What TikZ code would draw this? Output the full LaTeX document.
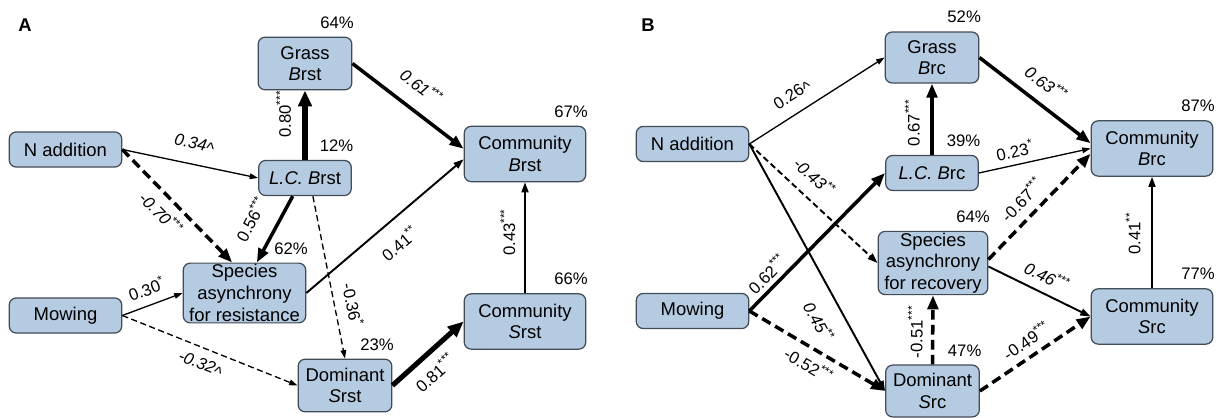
\documentclass[tikz,border=0pt]{standalone}
\usepackage{fontspec}
\setmainfont{Liberation Sans}
\usetikzlibrary{arrows.meta,positioning}
\definecolor{boxfill}{RGB}{181,203,225}
\definecolor{boxline}{RGB}{66,76,88}
\newcommand{\crt}{\raisebox{-.3ex}{\textasciicircum}}

\begin{document}
\begin{tikzpicture}[x=0.02cm, y=-0.02cm]
\tikzstyle{box}=[rectangle, rounded corners=4pt, draw=boxline, fill=boxfill, line width=0.7pt,
                 align=center, inner sep=0pt, font=\fontsize{10.5}{12.3}\selectfont]
\tikzstyle{one}=[box, minimum width=64pt, minimum height=20pt]
\tikzstyle{lc}=[box, minimum width=52.7pt, minimum height=20pt]
\tikzstyle{two}=[box, minimum width=53.3pt, minimum height=30pt]
\tikzstyle{com}=[box, minimum width=69.2pt, minimum height=31.5pt]
\tikzstyle{sp}=[box, minimum height=34pt]
\tikzstyle{pct}=[anchor=south east, inner sep=1pt, xshift=2pt, yshift=3.5pt, font=\fontsize{9.5}{11}\selectfont]
\tikzstyle{lbl}=[sloped, inner sep=1pt, font=\fontsize{9.5}{11}\selectfont]
\tikzstyle{thn}=[line width=0.75pt, -{Triangle[length=4.8pt,width=3.2pt]}]
\tikzstyle{med}=[line width=1.1pt, -{Triangle[length=5.8pt,width=4pt]}]
\tikzstyle{thk}=[line width=2pt, -{Triangle[length=8pt,width=6pt]}]
\tikzstyle{xthk}=[line width=2.9pt, -{Triangle[length=9pt,width=7.5pt]}]
\tikzstyle{dsh}=[dash pattern=on 3.5pt off 2pt]
\tikzstyle{ldsh}=[dash pattern=on 5.5pt off 3pt]
\useasboundingbox (0,0) rectangle (1225,418);
% panel A
\node[font=\fontsize{10.5}{12}\selectfont\bfseries] (labA) at (25,25) {A};
\node[two] (grA) at (305,63.5) {Grass\\\textit{B}rst};
\node[lc] (lcA) at (305,178) {\textit{L.C. B}rst};
\node[one] (naA) at (65.5,149.5) {N addition};
\node[sp, minimum width=69.7pt] (spA) at (244.5,293) {Species\\asynchrony\\for resistance};
\node[one] (mowA) at (65.5,315.5) {Mowing};
\node[two] (domA) at (345,385.5) {Dominant\\\textit{S}rst};
\node[com] (comBA) at (525,154) {Community\\\textit{B}rst};
\node[com] (comSA) at (525,321.5) {Community\\\textit{S}rst};
\draw[thn] (naA.east) -- node[lbl, above=6pt] {\textit{0.34\crt}} (lcA.west);
\draw[thk, ldsh] (naA.east) -- node[lbl, below=3pt, pos=.46] {\textit{-0.70\textsuperscript{***}}} ([xshift=-7pt]spA.north);
\draw[xthk] (lcA.north) -- node[lbl, above=5.5pt, pos=.66] {0.80\textsuperscript{***}} (grA.south);
\draw[thk] ([xshift=-7pt]lcA.south) -- node[lbl, above=8.5pt, pos=.53] {0.56\textsuperscript{***}} ([xshift=7pt]spA.north);
\draw[thn, dsh] ([xshift=4.5pt]lcA.south) -- node[lbl, above=5pt, pos=.69] {-0.36\textsuperscript{*}} (domA.north);
\draw[thk] (grA.east) -- node[lbl, above=7.5pt, pos=.49] {\textit{0.61\textsuperscript{***}}} ([yshift=3pt]comBA.west);
\draw[med] (spA.east) -- node[lbl, below=7pt] {0.41\textsuperscript{**}} ([yshift=-3pt]comBA.west);
\draw[thn] (mowA.east) -- node[lbl, above=4pt] {0.30\textsuperscript{*}} (spA.west);
\draw[thn, dsh] (mowA.east) -- node[lbl, below=4pt, pos=.48] {\textit{-0.32\crt}} (domA.west);
\draw[xthk] (domA.east) -- node[lbl, below=4pt, pos=.42] {0.81\textsuperscript{***}} (comSA.west);
\draw[med] (comSA.north) -- node[lbl, above=4pt, pos=.55] {0.43\textsuperscript{***}} (comBA.south);
% panel B
\node[font=\fontsize{10.5}{12}\selectfont\bfseries] (labB) at (648,25) {B};
\node[one] (naB) at (692.5,144) {N addition};
\node[one] (mowB) at (692.5,311) {Mowing};
\node[two, minimum height=29pt] (grB) at (932,57.5) {Grass\\\textit{B}rc};
\node[lc] (lcB) at (932,173) {\textit{L.C. B}rc};
\node[sp, minimum width=62.4pt, minimum height=36pt] (spB) at (933,263) {Species\\asynchrony\\for recovery};
\node[two, minimum height=29.5pt] (domB) at (932.5,391) {Dominant\\\textit{S}rc};
\node[com] (comBB) at (1152,148.5) {Community\\\textit{B}rc};
\node[com] (comSB) at (1152,316.5) {Community\\\textit{S}rc};
\draw[thn] (naB.east) -- node[lbl, above=4.5pt, pos=.39] {0.26\crt} (grB.west);
\draw[med, dsh] (naB.east) -- node[lbl, above=6pt, pos=.4] {\textit{-0.43\textsuperscript{**}}} (spB.west);
\draw[med] (naB.east) -- node[lbl, below=8pt, pos=.67] {\textit{0.45\textsuperscript{**}}} (domB.west);
\draw[thk] (mowB.east) -- node[lbl, above=1.5pt, pos=.2] {0.62\textsuperscript{***}} (lcB.west);
\draw[thk, ldsh] (mowB.east) -- node[lbl, below=3pt] {-0.52\textsuperscript{***}} (domB.west);
\draw[thk] (lcB.north) -- node[lbl, above=5pt, pos=.45] {0.67\textsuperscript{***}} (grB.south);
\draw[thn] (lcB.east) -- node[lbl, above=2.7pt, pos=.35] {0.23\textsuperscript{*}} (comBB.west);
\draw[thk] (grB.east) -- node[lbl, above=5.5pt, pos=.49] {\textit{0.63\textsuperscript{***}}} ([yshift=3pt]comBB.west);
\draw[thk, ldsh] ([yshift=2pt]spB.east) -- node[lbl, above=4pt, pos=.45] {-0.67\textsuperscript{***}} ([yshift=-3pt]comBB.west);
\draw[med] ([yshift=-2pt]spB.east) -- node[lbl, above=4pt] {\textit{0.46\textsuperscript{***}}} (comSB.west);
\draw[thk, ldsh] (domB.north) -- node[lbl, above=3.7pt, pos=.47] {-0.51\textsuperscript{***}} (spB.south);
\draw[thk, ldsh] (domB.east) -- node[lbl, above=3pt] {-0.49\textsuperscript{***}} (comSB.west);
\draw[med] (comSB.north) -- node[lbl, above=5pt, pos=.49] {0.41\textsuperscript{**}} (comBB.south);
% explained variance
\foreach \n/\t in {grA/64,lcA/12,comBA/67,spA/62,domA/23,comSA/66,grB/52,lcB/39,comBB/87,spB/64,domB/47,comSB/77}{
  \node[pct] (p\n) at (\n.north east) {\t\%};}
\end{tikzpicture}
\end{document}
